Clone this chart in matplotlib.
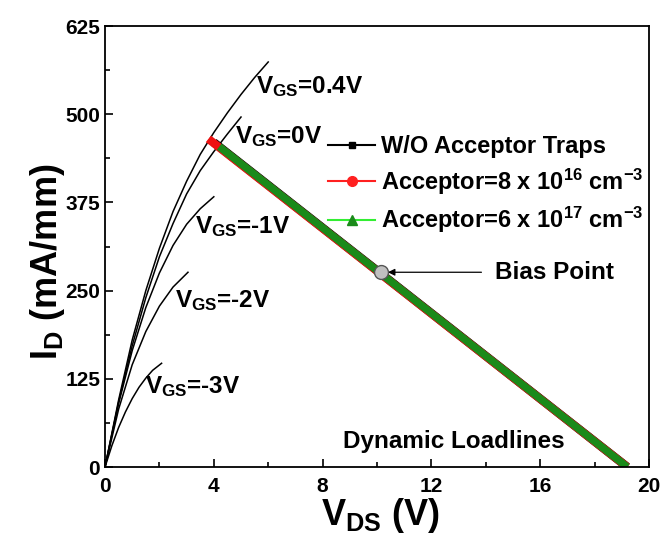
import numpy as np
import matplotlib.pyplot as plt

plt.rcParams['font.family'] = ['Liberation Sans', 'DejaVu Sans']
plt.rcParams['font.weight'] = 'bold'
plt.rcParams['mathtext.fontset'] = 'custom'
plt.rcParams['mathtext.rm'] = 'Liberation Sans:bold'
plt.rcParams['mathtext.it'] = 'Liberation Sans:bold'
plt.rcParams['mathtext.bf'] = 'Liberation Sans:bold'

# output curves I_D(V_DS) for each V_GS
vgs_labels = ['0.4V', '0V', '-1V', '-2V', '-3V']
vds_04 = [0, 0.5, 1.0, 1.5, 2.0, 2.5, 3.0, 3.5, 4.0, 4.5, 5.0, 5.5, 6.0]
id_04 = [0, 95, 180, 250, 310, 362, 405, 443, 474, 502, 528, 552, 574]
vds_0 = [0, 0.5, 1.0, 1.5, 2.0, 2.5, 3.0, 3.5, 4.0, 4.5, 5.0]
id_0 = [0, 92, 172, 240, 298, 345, 387, 420, 447, 472, 496]
vds_m1 = [0, 0.5, 1.0, 1.5, 2.0, 2.5, 3.0, 3.5, 4.0]
id_m1 = [0, 90, 165, 226, 275, 314, 344, 366, 383]
vds_m2 = [0, 0.5, 1.0, 1.5, 2.0, 2.5, 3.05]
id_m2 = [0, 82, 145, 192, 228, 255, 276]
vds_m3 = [0, 0.25, 0.5, 0.75, 1.0, 1.25, 1.5, 1.75, 2.08]
id_m3 = [0, 30, 56, 78, 97, 113, 126, 137, 147]

# dynamic loadlines
ll_vds_none = [4.0, 19.2]
ll_id_none = [460, 0]
ll_vds_8e16 = [3.8, 19.2]
ll_id_8e16 = [465, 0]
ll_vds_6e17 = [4.2, 19.2]
ll_id_6e17 = [454, 0]

bias_vds = 10.15
bias_id = 276

fig = plt.figure(figsize=(6.63, 5.35), dpi=100)
ax = fig.add_axes([0.1584, 0.1271, 0.8205, 0.8243])

curves = [(vds_04, id_04), (vds_0, id_0), (vds_m1, id_m1), (vds_m2, id_m2), (vds_m3, id_m3)]
for x, y in curves:
    ax.plot(x, y, color='black', lw=1.1)

ax.plot(ll_vds_none, ll_id_none, color='black', lw=6.2, solid_capstyle='butt')
ax.plot(ll_vds_8e16, ll_id_8e16, color='#ee1111', lw=6.0, solid_capstyle='butt')
ax.plot(ll_vds_6e17, ll_id_6e17, color='#1a8a1a', lw=5.4, solid_capstyle='butt')

# legend proxies
ax.plot([], [], color='black', marker='s', ms=5, lw=1.5, label='W/O Acceptor Traps')
ax.plot([], [], color='#ff2020', marker='o', ms=7, lw=1.5, label='Acceptor=8 x 10$^{16}$ cm$^{-3}$')
ax.plot([], [], color='#33ee33', marker='^', mfc='#1a8a1a', mec='#1a8a1a', ms=7, lw=1.5,
        label='Acceptor=6 x 10$^{17}$ cm$^{-3}$')
leg = ax.legend(loc='upper left', bbox_to_anchor=(0.41, 0.752), frameon=False,
                fontsize=17, handlelength=2.0, handletextpad=0.25, labelspacing=0.35,
                borderaxespad=0, borderpad=0)

ax.plot(bias_vds, bias_id, 'o', ms=10, mfc='#c0c0c0', mec='#555555', mew=1, zorder=5)
ax.annotate('Bias Point', xy=(bias_vds + 0.25, bias_id), xytext=(14.35, bias_id),
            fontsize=17.5, fontweight='bold', va='center',
            arrowprops=dict(arrowstyle='-|>', color='black', lw=0.9, mutation_scale=10,
                            shrinkA=8, shrinkB=0))

lab_pos = [(5.55, 530), (4.78, 459), (3.3, 332), (2.57, 227), (1.47, 105)]
for lab, (x, y) in zip(vgs_labels, lab_pos):
    ax.text(x, y, r'V$_{\mathregular{GS}}$=' + lab, fontsize=17.5, fontweight='bold', va='baseline')

ax.text(8.75, 27, 'Dynamic Loadlines', fontsize=17.5, fontweight='bold', va='baseline')

ax.set_xlim(0, 20)
ax.set_ylim(0, 625)
ax.set_xticks([0, 4, 8, 12, 16, 20])
ax.set_xticks(np.arange(2, 20, 4), minor=True)
ax.set_yticks([0, 125, 250, 375, 500, 625])
ax.set_yticks(np.arange(62.5, 625, 125), minor=True)
ax.tick_params(direction='in', which='major', length=6, width=1.2, labelsize=15)
ax.tick_params(direction='in', which='minor', length=3.5, width=1.2)
ax.tick_params(axis='x', which='major', pad=7)
for s in ax.spines.values():
    s.set_linewidth(1.3)

ax.set_xlabel(r'V$_{\mathregular{DS}}$ (V)', fontsize=26, fontweight='bold')
ax.set_ylabel(r'I$_{\mathregular{D}}$ (mA/mm)', fontsize=26, fontweight='bold')
ax.xaxis.set_label_coords(0.507, -0.066)
ax.xaxis.label.set_va('top')
ax.yaxis.set_label_coords(-0.105, 0.465)
ax.yaxis.label.set_va('center')

fig.savefig('out.png', dpi=100)
